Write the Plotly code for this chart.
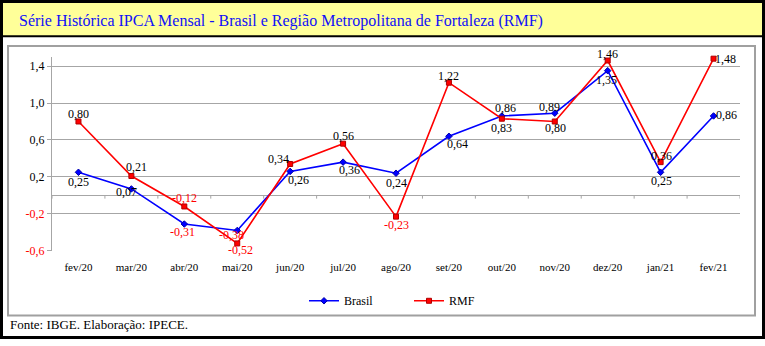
import plotly.graph_objects as go

W, H = 765, 346

months = ["fev/20", "mar/20", "abr/20", "mai/20", "jun/20", "jul/20", "ago/20",
          "set/20", "out/20", "nov/20", "dez/20", "jan/21", "fev/21"]
brasil = [0.25, 0.07, -0.31, -0.38, 0.26, 0.36, 0.24, 0.64, 0.86, 0.89, 1.35, 0.25, 0.86]
rmf = [0.80, 0.21, -0.12, -0.52, 0.34, 0.56, -0.23, 1.22, 0.83, 0.80, 1.46, 0.36, 1.48]
y_ticks = [-0.6, -0.2, 0.2, 0.6, 1.0, 1.4]

title_text = "Série Histórica IPCA Mensal - Brasil e Região Metropolitana de Fortaleza (RMF)"
source_text = "Fonte: IBGE. Elaboração: IPECE."

# label pixel offsets (style)
brasil_off = [(0, 10), (-5, 3), (-2, 8), (-6, 5), (8, 9), (6, 8), (0, 10), (9, 8),
              (4, -8), (-5, -6), (-1, 9), (1, 9), (13, -1)]
rmf_off = [(0, -7), (5, -9), (0, -8), (3, 7), (-12, -5), (0, -8), (0, 8), (0, -7),
           (0, 9), (1, 7), (0, -7), (1, -6), (12, 0)]

FONT = "'Liberation Serif', 'Times New Roman', serif"
BLUE = "#0000FF"
RED = "#FF0000"
GRID = "#A6A6A6"


def fmt(v, dec=2):
    return f"{v:.{dec}f}".replace(".", ",")


def px(x):
    return x / W


def py(y):
    return 1 - y / H


fig = go.Figure()
fig.add_trace(go.Scatter(
    x=months, y=brasil, name="Brasil", mode="lines+markers",
    line=dict(color=BLUE, width=1.6),
    marker=dict(symbol="diamond", size=5, color=BLUE, line=dict(color="#0000AA", width=1)),
    cliponaxis=False,
))
fig.add_trace(go.Scatter(
    x=months, y=rmf, name="RMF", mode="lines+markers",
    line=dict(color=RED, width=1.6),
    marker=dict(symbol="square", size=5, color=RED, line=dict(color="#B00000", width=1)),
    cliponaxis=False,
))

annotations = []
for series, offs in ((brasil, brasil_off), (rmf, rmf_off)):
    for i, (v, (dx, dy)) in enumerate(zip(series, offs)):
        annotations.append(dict(
            x=i, y=v, xref="x", yref="y", text=fmt(v), showarrow=False,
            xshift=dx, yshift=-dy, xanchor="center", yanchor="middle",
            font=dict(family=FONT, size=12, color=RED if v < 0 else "black"),
        ))

annotations.append(dict(
    x=px(17), y=py(21), xref="paper", yref="paper", text=title_text, showarrow=False,
    xanchor="left", yanchor="middle", font=dict(family=FONT, size=16, color="#1010F8"),
))
annotations.append(dict(
    x=px(8), y=py(331), xref="paper", yref="paper", text=source_text, showarrow=False,
    xanchor="left", yanchor="middle", font=dict(family=FONT, size=13, color="black"),
))

shapes = [
    # title band
    dict(type="rect", xref="paper", yref="paper", x0=0, x1=1, y0=py(37), y1=1,
         fillcolor="#FFFF99", line=dict(width=0), layer="below"),
    dict(type="line", xref="paper", yref="paper", x0=0, x1=1, y0=py(37), y1=py(37),
         line=dict(color="black", width=2)),
    # inner chart box
    dict(type="rect", xref="paper", yref="paper", x0=px(8), x1=px(755), y0=py(322), y1=py(47),
         line=dict(color="#A0A0A0", width=2)),
    # outer border
    dict(type="rect", xref="paper", yref="paper", x0=px(1.5), x1=px(763.5), y0=py(344.5), y1=py(1.5),
         line=dict(color="black", width=3)),
]
# category tick marks on the zero line
for i in range(len(months) + 1):
    shapes.append(dict(type="line", xref="x", yref="y", x0=i - 0.5, x1=i - 0.5, y0=0, y1=-0.035,
                       line=dict(color=GRID, width=1)))

ticktext = []
for t in y_ticks:
    s = fmt(t, 1)
    ticktext.append(f"<span style='color:{RED}'>{s}</span>" if t < 0 else s)

fig.update_layout(
    width=W, height=H,
    margin=dict(l=0, r=0, t=0, b=0),
    paper_bgcolor="white", plot_bgcolor="white",
    font=dict(family=FONT, size=12, color="black"),
    showlegend=True,
    legend=dict(orientation="h", x=px(304), xanchor="left", y=py(307), yanchor="middle",
                font=dict(family=FONT, size=12), entrywidth=60, entrywidthmode="pixels",
                bgcolor="rgba(0,0,0,0)"),
    xaxis=dict(domain=[px(52), px(740)], range=[-0.5, len(months) - 0.5], type="category",
               showgrid=False, zeroline=False, showline=False, ticks="",
               tickfont=dict(family=FONT, size=11), ticklabelstandoff=8),
    yaxis=dict(domain=[py(256), py(58)], range=[-0.6, 1.5], tickvals=y_ticks, ticktext=ticktext,
               showgrid=True, gridcolor=GRID, gridwidth=1,
               zeroline=True, zerolinecolor=GRID, zerolinewidth=1,
               showline=True, linecolor=GRID, linewidth=1,
               ticks="outside", ticklen=4, tickcolor=GRID,
               tickfont=dict(family=FONT, size=12)),
    annotations=annotations,
    shapes=shapes,
)

fig.write_html("out.html")
